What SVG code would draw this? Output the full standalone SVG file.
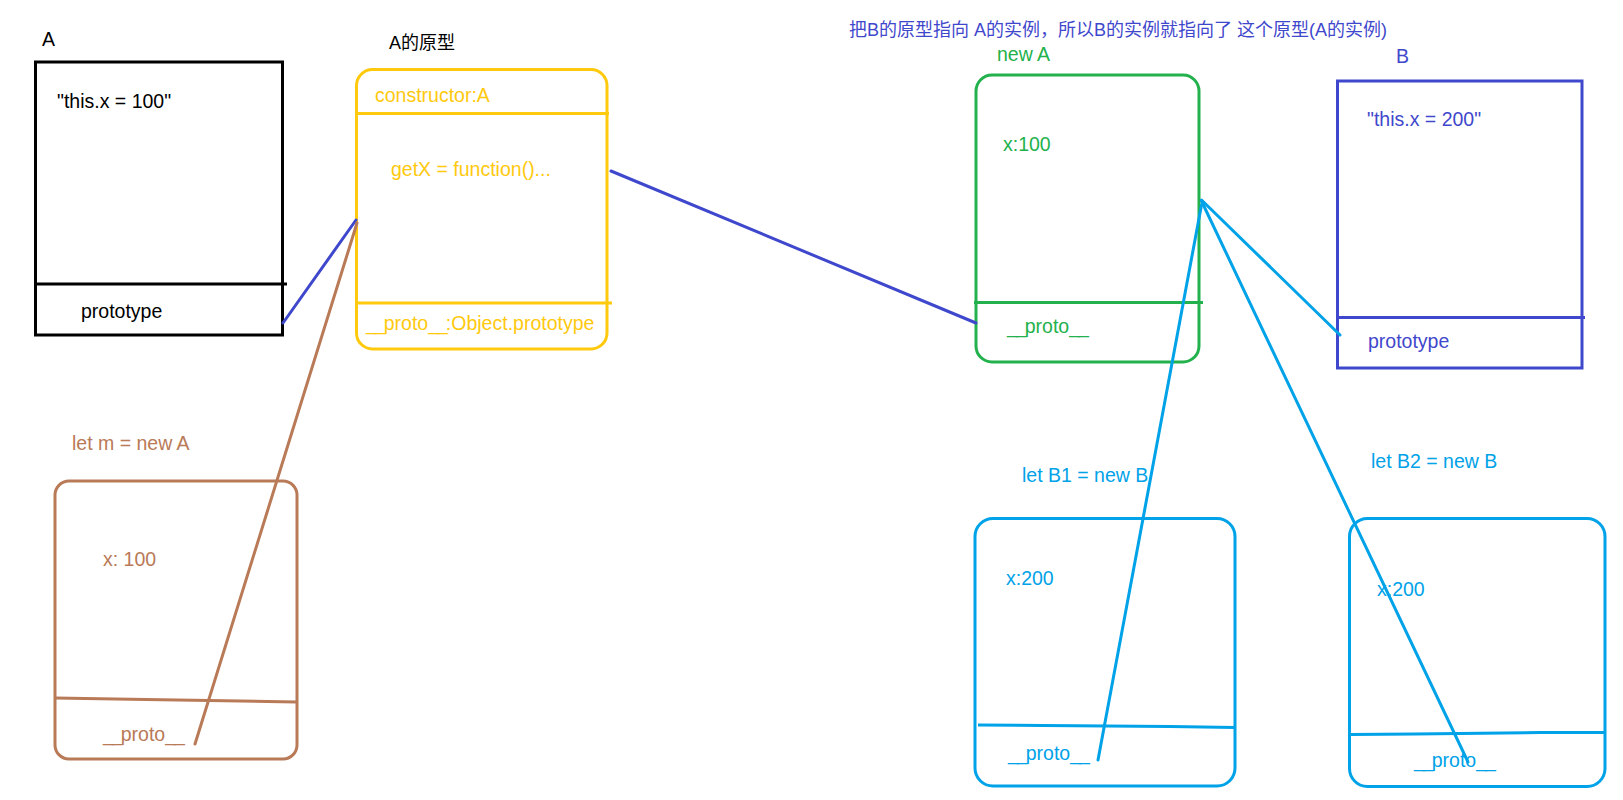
<svg xmlns="http://www.w3.org/2000/svg" width="1623" height="800" viewBox="0 0 1623 800">
<style>
text{font-family:"Liberation Sans","Noto Sans CJK SC",sans-serif;font-size:19.5px}
.cjk{font-size:18px}
.u{letter-spacing:-2px}
.box{fill:none;stroke-width:3}
.ln{fill:none;stroke-width:3;stroke-linecap:round}
.k{fill:#000}.y{fill:#FFC90E}.b{fill:#B97A57}.g{fill:#22B14C}.i{fill:#3F48CC}.c{fill:#00A2E8}
.sk{stroke:#000}.sy{stroke:#FFC90E}.sb{stroke:#B97A57}.sg{stroke:#22B14C}.si{stroke:#3F48CC}.sc{stroke:#00A2E8}
</style>
<rect width="1623" height="800" fill="#fff"/>
<g id="title"><text class="i cjk" x="849" y="36">把B的原型指向 A的实例，所以B的实例就指向了 这个原型(A的实例)</text></g>
<g id="nodeA">
<text class="k" x="42" y="46">A</text>
<rect class="box sk" x="35.5" y="62" width="247" height="273"/>
<line class="box sk" x1="35.5" y1="284" x2="287" y2="284"/>
<text class="k" x="57" y="108">"this.x = 100"</text>
<text class="k" x="81" y="318">prototype</text>
</g>
<g id="protoA">
<text class="k cjk" x="389" y="49">A的原型</text>
<rect class="box sy" x="356.5" y="69.5" width="250.5" height="279.5" rx="16"/>
<line class="box sy" x1="356.5" y1="113.5" x2="609" y2="113.5"/>
<line class="box sy" x1="356.5" y1="303" x2="612" y2="303"/>
<text class="y" x="375" y="102">constructor:A</text>
<text class="y" x="391" y="176">getX = function()...</text>
<text class="y" x="366" y="330"><tspan class="u">__</tspan>proto<tspan class="u">__</tspan>:Object.prototype</text>
</g>
<g id="instM">
<text class="b" x="72" y="450">let m = new A</text>
<rect class="box sb" x="55" y="481" width="242" height="278" rx="14"/>
<polyline class="box sb" points="55,698 85,698.5 146,699.5 267,701.5 297,702"/>
<text class="b" x="103" y="566">x: 100</text>
<text class="b" x="103" y="741"><tspan class="u">__</tspan>proto<tspan class="u">__</tspan></text>
</g>
<g id="newA">
<text class="g" x="997" y="61">new A</text>
<rect class="box sg" x="976" y="75" width="223" height="287" rx="16"/>
<line class="box sg" x1="974" y1="302.5" x2="1203" y2="302.5"/>
<text class="g" x="1003" y="151">x:100</text>
<text class="g" x="1007" y="333"><tspan class="u">__</tspan>proto<tspan class="u">__</tspan></text>
</g>
<g id="nodeB">
<text class="i" x="1396" y="63">B</text>
<rect class="box si" x="1337.5" y="81" width="244.5" height="287"/>
<line class="box si" x1="1337.5" y1="317.5" x2="1585" y2="317.5"/>
<text class="i" x="1367" y="126">"this.x = 200"</text>
<text class="i" x="1368" y="348">prototype</text>
</g>
<g id="instB1">
<text class="c" x="1022" y="482">let B1 = new B</text>
<rect class="box sc" x="975" y="518.5" width="260" height="267.5" rx="18"/>
<polyline class="box sc" points="978,725 1043,725.5 1170,726.5 1235,727.5"/>
<text class="c" x="1006" y="585">x:200</text>
<text class="c" x="1008" y="760"><tspan class="u">__</tspan>proto<tspan class="u">__</tspan></text>
</g>
<g id="instB2">
<text class="c" x="1371" y="468">let B2 = new B</text>
<rect class="box sc" x="1349.5" y="518.5" width="255.5" height="268" rx="18"/>
<polyline class="box sc" points="1350.5,734.5 1415,734 1540,732.5 1604,732.5"/>
<text class="c" x="1377" y="596">x:200</text>
<text class="c" x="1414" y="767"><tspan class="u">__</tspan>proto<tspan class="u">__</tspan></text>
</g>
<g id="connectors">
<line class="ln si" x1="283" y1="323" x2="356" y2="220"/>
<line class="ln sb" stroke-width="2.5" x1="357" y1="223" x2="195" y2="744"/>
<line class="ln si" x1="611" y1="171" x2="976" y2="323"/>
<line class="ln sc" x1="1201.5" y1="200" x2="1340" y2="335"/>
<line class="ln sc" x1="1201.5" y1="201" x2="1468" y2="762"/>
<line class="ln sc" x1="1201.5" y1="205" x2="1098" y2="760"/>
</g>
</svg>
